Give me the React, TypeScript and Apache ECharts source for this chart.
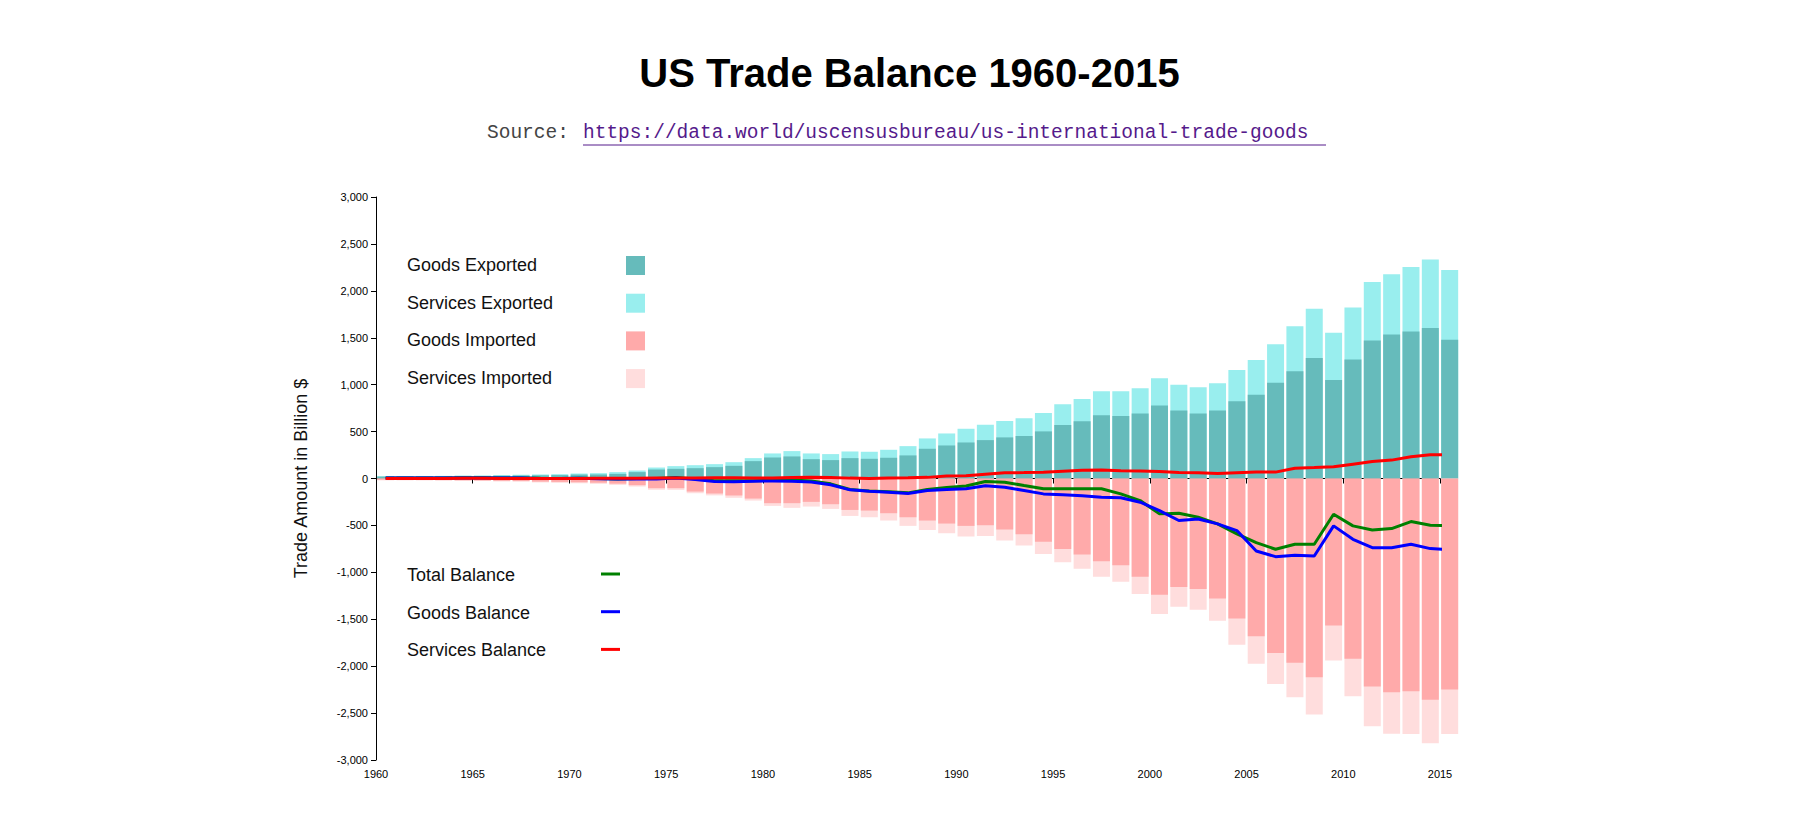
import React, { useEffect, useRef } from "react";
import * as echarts from "echarts";

const years = Array.from({ length: 56 }, (_, i) => 1960 + i);

const goodsExported = [
  20, 21, 21, 22, 25, 26, 29, 31, 34, 36, 42, 43, 49, 68, 96, 103, 110, 121, 135, 185,
  224, 235, 206, 196, 217, 210, 221, 246, 317, 352, 384, 409, 438, 452, 502, 569, 609, 673,
  665, 694, 779, 726, 694, 726, 822, 893, 1021, 1142, 1285, 1050, 1267, 1470, 1534, 1566,
  1605, 1480,
];
const servicesExported = [
  5, 5, 6, 6, 7, 7, 8, 9, 9, 10, 11, 14, 19, 17, 21, 29, 32, 32, 39, 32,
  43, 57, 61, 64, 71, 75, 85, 99, 110, 128, 146, 164, 174, 189, 195, 221, 238, 256,
  264, 267, 289, 274, 278, 288, 335, 370, 410, 481, 523, 502, 555, 623, 644, 687,
  730, 741,
];
const goodsImported = [
  15, 15, 16, 17, 19, 21, 25, 27, 33, 36, 40, 45, 55, 71, 103, 103, 139, 160, 181, 214,
  263, 263, 249, 274, 335, 342, 370, 413, 448, 480, 505, 498, 544, 594, 673, 751, 811, 883,
  925, 1046, 1238, 1157, 1178, 1278, 1491, 1680, 1861, 1964, 2117, 1566, 1922, 2217, 2278, 2267,
  2359, 2249,
];
const servicesImported = [
  5, 5, 5, 6, 6, 6, 7, 8, 9, 10, 11, 12, 13, 15, 17, 18, 18, 20, 25, 21,
  29, 50, 50, 50, 64, 71, 78, 92, 100, 104, 114, 114, 118, 121, 131, 142, 150, 163,
  175, 185, 207, 210, 221, 238, 281, 295, 328, 367, 399, 374, 398, 424, 441, 455,
  463, 473,
];
const goodsBalance = [
  5, 6, 5, 5, 6, 5, 4, 4, 1, 0, 2, -2, -6, -3, -5, 5, -10, -31, -34, -28,
  -26, -28, -38, -67, -121, -135, -146, -160, -128, -117, -110, -78, -93, -128, -164, -174, -185, -199,
  -206, -253, -342, -448, -431, -484, -555, -772, -833, -819, -826, -505, -648, -737, -737, -701,
  -747, -758,
];
const servicesBalance = [
  0, 0, 1, 1, 2, 2, 1, 1, 1, 1, 1, 2, 2, 3, 4, 5, 6, 8, 9, 5,
  6, 10, 12, 10, 4, 1, 6, 7, 12, 27, 30, 45, 60, 63, 67, 77, 87, 90,
  82, 80, 75, 64, 61, 54, 62, 68, 68, 110, 117, 125, 153, 181, 196, 231,
  253, 253,
];
const totalBalance = [
  5, 6, 6, 6, 8, 7, 5, 5, 2, 1, 3, 0, -4, 0, -1, 10, -4, -23, -25, -23,
  -20, -16, -26, -57, -117, -134, -140, -153, -116, -96, -80, -32, -39, -75, -110, -110, -110, -110,
  -164, -235, -377, -370, -413, -484, -590, -683, -754, -701, -701, -381, -505, -548, -534, -459,
  -498, -502,
];

const yTicks = [-3000, 3000, 500];

const barLegend = [
  { name: "Goods Exported", color: "#66bbbb" },
  { name: "Services Exported", color: "#99eeee" },
  { name: "Goods Imported", color: "#ffaaaa" },
  { name: "Services Imported", color: "#ffdddd" },
];
const lineLegend = [
  { name: "Total Balance", color: "#008000" },
  { name: "Goods Balance", color: "#0000ff" },
  { name: "Services Balance", color: "#ff0000" },
];

const xy = (vals: number[], sign = 1) => vals.map((v, i) => [years[i] + 0.5, v * sign]);
const sum = (a: number[], b: number[]) => a.map((v, i) => v + b[i]);

const App = () => {
  const chartRef = useRef<HTMLDivElement>(null);

  useEffect(() => {
    if (!chartRef.current) return;
    const chart = echarts.init(chartRef.current, null, { renderer: "svg" });

    // bars overlap at the same x: totals drawn first, goods part on top
    const bar = (name: string, data: number[], sign: number, color: string, z: number) => ({
      name,
      type: "bar",
      barWidth: 17,
      barGap: "-100%",
      clip: false,
      itemStyle: { color },
      data: xy(data, sign),
      z,
    });
    const line = (name: string, data: number[], color: string) => ({
      name,
      type: "line",
      symbol: "none",
      clip: false,
      lineStyle: { color, width: 3 },
      data: xy(data),
      z: 5,
    });

    const font = "18px Arial, 'Liberation Sans'";
    const graphic: any[] = [
      {
        type: "text",
        left: "center",
        top: 45,
        style: { text: "US Trade Balance 1960-2015", font: "bold 40px Arial, 'Liberation Sans'", fill: "#000" },
      },
      {
        type: "text",
        x: 479,
        y: 115,
        style: { text: "Source: ", font: "19.5px 'Liberation Mono', monospace", fill: "#444" },
      },
      {
        type: "text",
        x: 575,
        y: 115,
        style: {
          text: "https://data.world/uscensusbureau/us-international-trade-goods",
          font: "19.5px 'Liberation Mono', monospace",
          fill: "#551a8b",
        },
      },
      { type: "line", shape: { x1: 575, y1: 137, x2: 1318, y2: 137 }, style: { stroke: "#551a8b", lineWidth: 1 } },
    ];
    barLegend.forEach((l, i) => {
      graphic.push({
        type: "text",
        x: 399,
        y: 257 + i * 37.7,
        style: { text: l.name, font, fill: "#111", verticalAlign: "middle" },
      });
      graphic.push({ type: "rect", shape: { x: 618, y: 248 + i * 37.7, width: 19, height: 19 }, style: { fill: l.color } });
    });
    lineLegend.forEach((l, i) => {
      graphic.push({
        type: "text",
        x: 399,
        y: 567 + i * 37.7,
        style: { text: l.name, font, fill: "#111", verticalAlign: "middle" },
      });
      graphic.push({
        type: "line",
        shape: { x1: 593, y1: 566 + i * 37.7, x2: 612, y2: 566 + i * 37.7 },
        style: { stroke: l.color, lineWidth: 3 },
      });
    });

    const option: any = {
      animation: false,
      grid: { left: 368, right: 371, top: 189, bottom: 45 },
      xAxis: {
        type: "value",
        min: 1960,
        max: 2015,
        interval: 5,
        axisLine: { lineStyle: { color: "#000" } },
        axisTick: { lineStyle: { color: "#000" } },
        axisLabel: { color: "#000", fontSize: 11, fontFamily: "Arial", formatter: (v: number) => String(v) },
        splitLine: { show: false },
      },
      yAxis: {
        type: "value",
        min: yTicks[0],
        max: yTicks[1],
        interval: yTicks[2],
        name: "Trade Amount in Billion $",
        nameLocation: "middle",
        nameGap: 66,
        nameTextStyle: { fontSize: 18, fontFamily: "Arial", color: "#111" },
        axisLine: { show: true, lineStyle: { color: "#000" } },
        axisTick: { show: true, lineStyle: { color: "#000" } },
        axisLabel: { color: "#000", fontSize: 11, fontFamily: "Arial", formatter: (v: number) => v.toLocaleString("en-US") },
        splitLine: { show: false },
      },
      graphic,
      series: [
        bar("Services Exported", sum(goodsExported, servicesExported), 1, barLegend[1].color, 1),
        bar("Goods Exported", goodsExported, 1, barLegend[0].color, 2),
        bar("Services Imported", sum(goodsImported, servicesImported), -1, barLegend[3].color, 1),
        bar("Goods Imported", goodsImported, -1, barLegend[2].color, 2),
        line("Total Balance", totalBalance, lineLegend[0].color),
        line("Goods Balance", goodsBalance, lineLegend[1].color),
        line("Services Balance", servicesBalance, lineLegend[2].color),
      ],
    };

    chart.setOption(option);
    return () => chart.dispose();
  }, []);

  return <div ref={chartRef} style={{ width: "1803px", height: "797px" }} />;
};

export default App;
